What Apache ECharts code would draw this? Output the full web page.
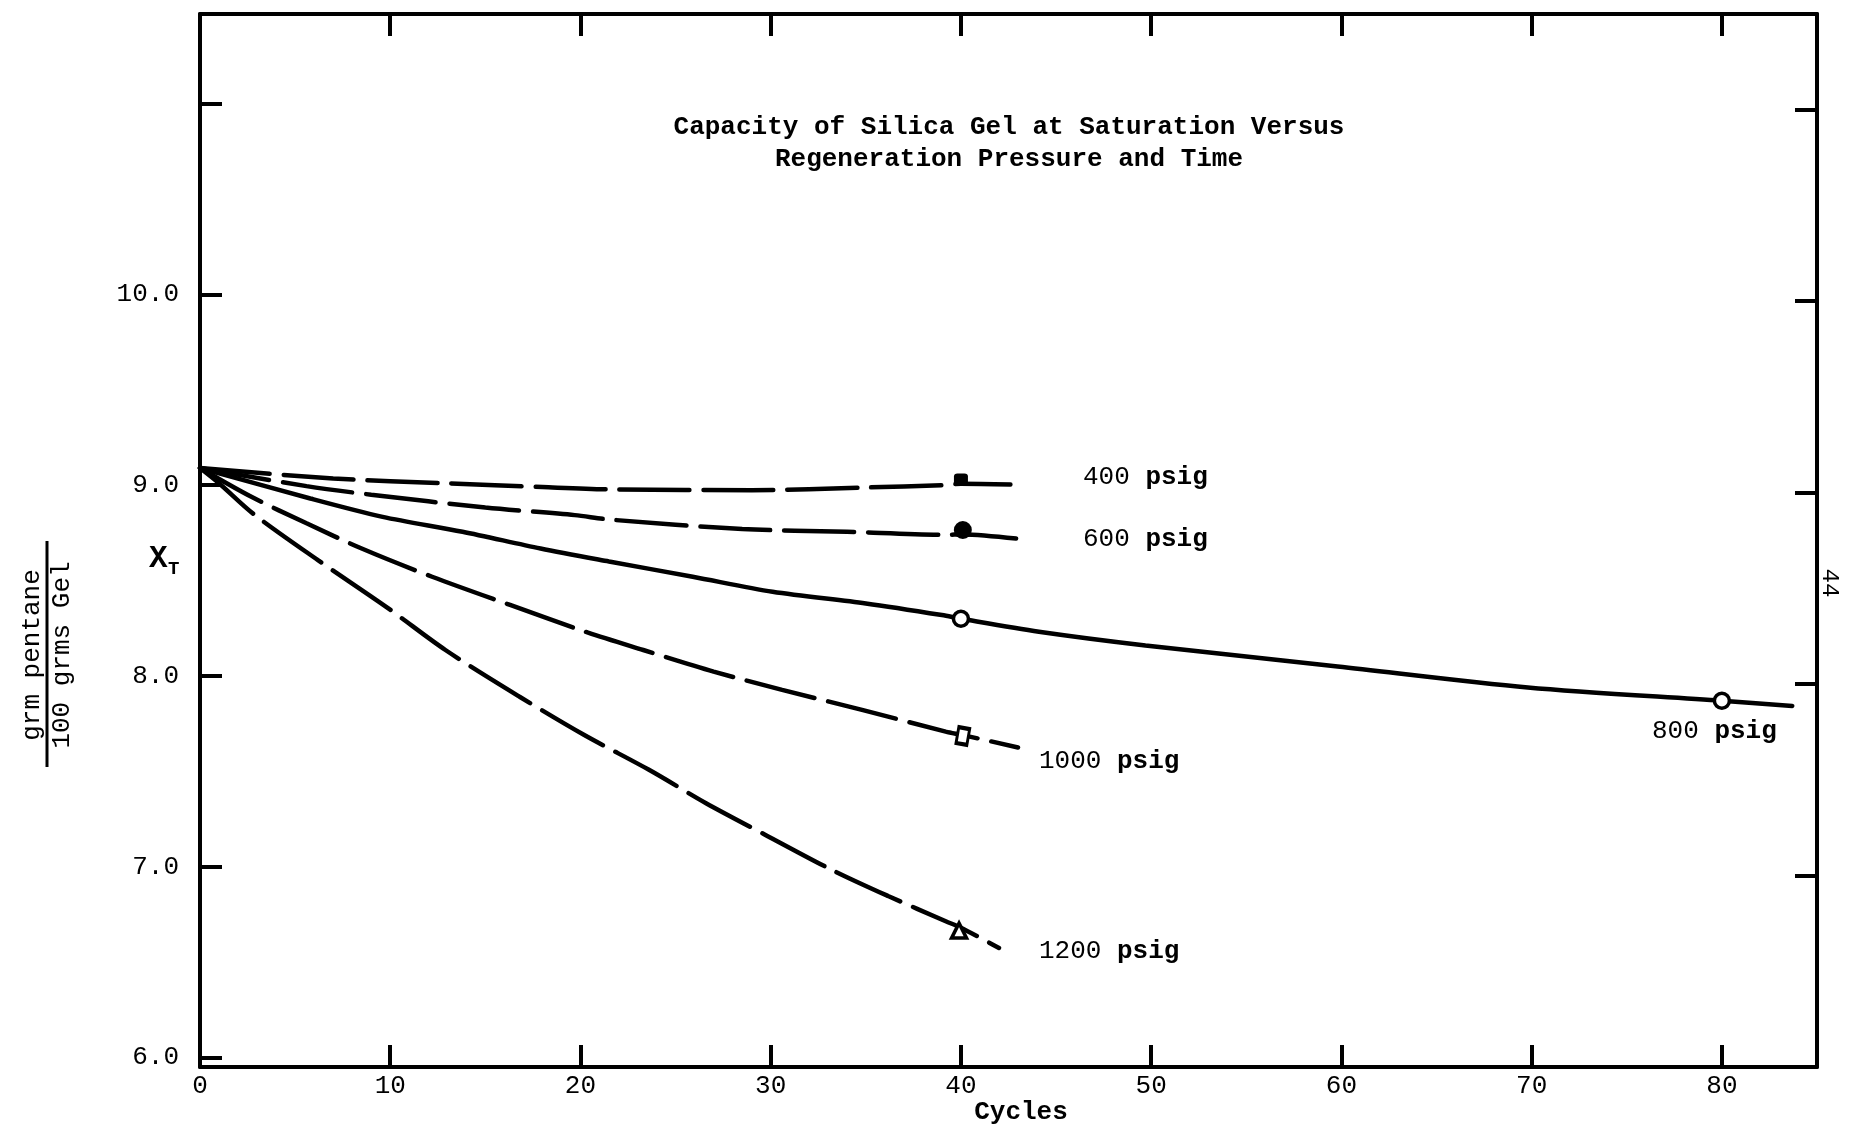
<!DOCTYPE html>
<html>
<head>
<meta charset="utf-8">
<title>Capacity of Silica Gel</title>
<script src="https://cdn.jsdelivr.net/npm/echarts/dist/echarts.min.js"></script>
<style>
    html,body{margin:0;padding:0;background:#fff;}
    #main{width:1873px;height:1131px;}
</style>
</head>
<body>
<div id="main"></div>
<script>

/********** 数据 ********** */

var xMax = 85;
var yMin = 5.95, yMax = 11.47;
var yMinRight = 6, yMaxRight = 11.5;    // 右边框刻度（原图扫描略斜）
var xLabelMax = 80;             // 80 以后不标数字
var yLabelMax = 10;             // 11 处只有刻度

// [cycles, X_T]
var c400 = [[0, 9.09], [7, 9.035], [13, 9.01], [18, 8.99], [22, 8.977], [29, 8.974], [35, 8.988], [39, 9.0], [40, 9.008], [42.6, 9.004]];
var c600 = [[0, 9.09], [5.6, 8.995], [9, 8.95], [15, 8.883], [19.7, 8.843], [21.5, 8.82], [28.5, 8.77], [34, 8.756], [39.2, 8.74], [40.1, 8.742], [42.9, 8.72]];
var c800 = [[0, 9.09], [5.8, 8.93], [9.6, 8.834], [13.8, 8.756], [17.9, 8.668], [21.5, 8.6], [25.9, 8.52], [30.1, 8.441], [35, 8.38], [39, 8.319], [40, 8.3], [44.1, 8.232], [49.7, 8.16], [59.8, 8.05], [69.8, 7.94], [80, 7.87], [83.7, 7.843]];
var c1000 = [[0, 9.09], [2.7, 8.939], [5.6, 8.8], [8.5, 8.668], [12.2, 8.52], [16.3, 8.372], [20.4, 8.227], [23.3, 8.136], [27, 8.023], [30.6, 7.927], [34.8, 7.822], [39.2, 7.708], [40.1, 7.69], [43, 7.625]];
var c1200 = [[0, 9.09], [1, 9.01], [2.8, 8.85], [6.2, 8.607], [9.9, 8.354], [12.9, 8.136], [16.8, 7.891], [20.2, 7.69], [23.6, 7.508], [26.6, 7.333], [29.7, 7.168], [33.2, 6.984], [36.2, 6.845], [39.2, 6.714], [40, 6.68], [42, 6.574]];

// 实测点
var m400 = [[40, 9.03]];
var m600 = [[40.1, 8.765]];
var m800 = [[40, 8.3], [80, 7.87]];
var m1000 = [[40.1, 7.685]];
var m1200 = [[39.9, 6.665]];


/********** 样式 ********** */

var mono = "Liberation Mono";
var ink = "#000";
var dash = [70, 14];

function lineSeries(name, data, type){
    return {
        name : name,
        type : "line",
        data : data,
        smooth : 0.3,
        symbol : "none",
        silent : true,
        z : 2,
        lineStyle : {color : ink, width : 4.5, type : type, cap : "round"}
    };
}

function markSeries(name, data, symbol, size, filled, rotate){
    return {
        name : name,
        type : "scatter",
        data : data,
        symbol : symbol,
        symbolSize : size,
        symbolRotate : rotate || 0,
        silent : true,
        z : 5,
        itemStyle : filled
            ? {color : ink, opacity : 1}
            : {color : "#fff", borderColor : ink, borderWidth : 3.5, opacity : 1}
    };
}

function txt(x, y, text, size, weight, align, rot){
    var o = {
        type : "text", x : x, y : y, silent : true,
        style : {
            text : text, fill : ink,
            font : (weight || "normal") + " " + size + "px '" + mono + "'",
            textAlign : align || "left", textVerticalAlign : "middle"
        }
    };
    if(rot){ o.rotation = rot; }
    return o;
}

function psig(x, y, num){
    var t = txt(x, y, "", 26);
    t.style.text = "{n|" + num + "} {p|psig}";
    t.style.rich = {
        n : {font : "normal 26px '" + mono + "'", fill : ink},
        p : {font : "bold 26px '" + mono + "'", fill : ink}
    };
    return t;
}

var axisLine = {show : true, onZero : false, lineStyle : {color : ink, width : 4}};

function tick(inside){
    return {show : true, inside : inside, length : 22, lineStyle : {color : ink, width : 4}};
}

function xAx(pos, labels){
    return {
        type : "value", min : 0, max : xMax, interval : 10, position : pos,
        axisLine : axisLine, axisTick : tick(true), splitLine : {show : false},
        axisLabel : labels ? {
            color : ink, margin : 6, fontFamily : mono, fontSize : 26,
            showMaxLabel : false,
            formatter : function(v){ return v <= xLabelMax ? String(v) : ""; }
        } : {show : false}
    };
}

function yAx(pos, labels){
    var ax = {
        type : "value", min : yMin, max : yMax, splitNumber : 5, position : pos,
        axisLine : axisLine, axisTick : tick(true), splitLine : {show : false},
        axisLabel : labels ? {
            color : ink, margin : 21, fontFamily : mono, fontSize : 26,
            padding : [10, 0, 0, 0], showMinLabel : false, showMaxLabel : false,
            formatter : function(v){
                return (Math.abs(v - Math.round(v)) < 1e-6 && v <= yLabelMax) ? v.toFixed(1) : "";
            }
        } : {show : false}
    };
    if(!labels){
        ax.min = yMinRight;
        ax.max = yMaxRight;
        ax.interval = 1;
        delete ax.splitNumber;
    }
    return ax;
}


/********** 图表 ********** */

var myChart = echarts.init(document.getElementById("main"));

option = {

    backgroundColor : "#fff",

    animation : false,

    grid : [
        {left : 200, right : 56, top : 14, bottom : 64},
        // 底边向上的刻度，单独一条窄网格
        {left : 200, right : 56, top : 1067, bottom : 63}
    ],

    xAxis : [
        xAx("bottom", true),
        xAx("top", false),
        {
            gridIndex : 1, type : "value", min : 0, max : xMax, interval : 10, position : "top",
            axisLine : {show : false, onZero : false}, axisTick : tick(false),
            axisLabel : {show : false}, splitLine : {show : false}
        }
    ],

    yAxis : [
        yAx("left", true),
        yAx("right", false),
        {gridIndex : 1, type : "value", show : false, min : 0, max : 1}
    ],

    series : [
        lineSeries("400 psig", c400, dash),
        lineSeries("600 psig", c600, dash),
        lineSeries("800 psig", c800, "solid"),
        lineSeries("1000 psig", c1000, dash),
        lineSeries("1200 psig", c1200, dash),
        markSeries("400 psig pts", m400, "roundRect", [14, 12], true),
        markSeries("600 psig pts", m600, "circle", 18, true),
        markSeries("800 psig pts", m800, "circle", 15, false),
        markSeries("1000 psig pts", m1000, "rect", [11, 16], false, -10),
        markSeries("1200 psig pts", m1200, "triangle", 15, false)
    ],

    graphic : [
        txt(1009, 127, "Capacity of Silica Gel at Saturation Versus", 26, "bold", "center"),
        txt(1009, 159, "Regeneration Pressure and Time", 26, "bold", "center"),
        txt(1021, 1112, "Cycles", 26, "bold", "center"),
        psig(1083, 477, "400"),
        psig(1083, 539, "600"),
        psig(1039, 761, "1000"),
        psig(1039, 951, "1200"),
        psig(1652, 731, "800"),
        txt(149, 559, "X", 31, "bold", "left"),
        txt(168, 569, "T", 19, "bold", "left"),
        txt(32, 655, "grm pentane", 26, "normal", "center", Math.PI / 2),
        txt(62, 655, "100 grms Gel", 26, "normal", "center", Math.PI / 2),
        {
            type : "line", silent : true,
            shape : {x1 : 47, y1 : 541, x2 : 47, y2 : 767},
            style : {stroke : ink, lineWidth : 3}
        },
        txt(1829, 583, "44", 24, "normal", "center", -Math.PI / 2)
    ]
};

myChart.setOption(option);

</script>
</body>
</html>
